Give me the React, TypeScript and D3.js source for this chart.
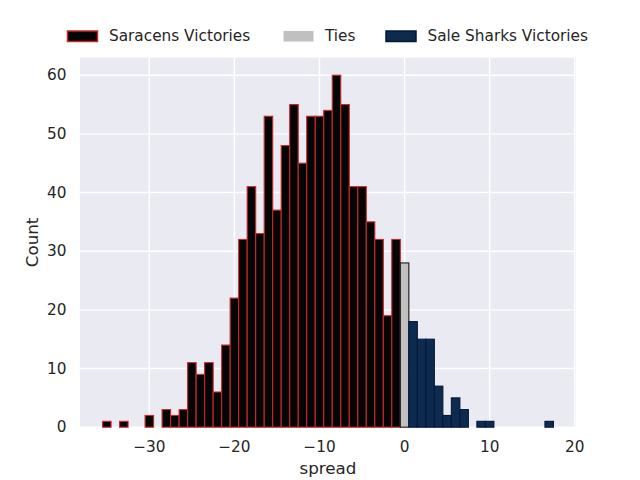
import { useEffect, useRef } from 'react';
import * as d3 from 'd3';

// spread values (integer bins) and their counts
const saracensSpread = [-35, -33, -30, -28, -27, -26, -25, -24, -23, -22, -21, -20, -19, -18, -17, -16, -15, -14, -13, -12, -11, -10, -9, -8, -7, -6, -5, -4, -3, -2, -1];
const saracensCounts = [1, 1, 2, 3, 2, 3, 11, 9, 11, 6, 14, 22, 32, 41, 33, 53, 37, 48, 55, 45, 53, 53, 54, 60, 55, 41, 41, 35, 32, 19, 32];
const tieSpread = [0];
const tieCounts = [28];
const saleSpread = [1, 2, 3, 4, 5, 6, 7, 9, 10, 17];
const saleCounts = [18, 15, 15, 7, 2, 5, 3, 1, 1, 1];

const xTicks = [-30, -20, -10, 0, 10, 20];
const yTicks = [0, 10, 20, 30, 40, 50, 60];

const series = [
  { name: 'Saracens Victories', spread: saracensSpread, counts: saracensCounts, fill: '#050505', stroke: '#c8282a' },
  { name: 'Ties', spread: tieSpread, counts: tieCounts, fill: '#c0c0c0', stroke: '#1a1a1a' },
  { name: 'Sale Sharks Victories', spread: saleSpread, counts: saleCounts, fill: '#0d2b4f', stroke: '#06173a' },
];

export default function App() {
  const svgRef = useRef<SVGSVGElement>(null);

  useEffect(() => {
    document.body.style.margin = '0';
    if (!svgRef.current) return;
    d3.select(svgRef.current).selectAll('*').remove();

    const width = 640;
    const height = 480;
    const left = 80, right = 576, top = 57.6, bottom = 427.2;
    const textColor = '#262626';
    const font = 'DejaVu Sans, sans-serif';

    const svg = d3.select(svgRef.current).attr('width', width).attr('height', height);

    const x = d3.scaleLinear().domain([-38.15, 20.15]).range([left, right]);
    const y = d3.scaleLinear().domain([0, 63]).range([bottom, top]);

    // background
    svg.append('rect')
      .attr('x', left).attr('y', top)
      .attr('width', right - left).attr('height', bottom - top)
      .attr('fill', '#eaeaf2');

    // grid
    svg.append('g').selectAll('line').data(xTicks).join('line')
      .attr('x1', d => x(d)).attr('x2', d => x(d))
      .attr('y1', top).attr('y2', bottom)
      .attr('stroke', 'white').attr('stroke-width', 1.4);
    svg.append('g').selectAll('line').data(yTicks).join('line')
      .attr('x1', left).attr('x2', right)
      .attr('y1', d => y(d)).attr('y2', d => y(d))
      .attr('stroke', 'white').attr('stroke-width', 1.4);

    // bars
    series.forEach(s => {
      svg.append('g').selectAll('rect').data(s.spread.map((v, i) => ({ v, c: s.counts[i] }))).join('rect')
        .attr('x', d => x(d.v - 0.5))
        .attr('width', d => x(d.v + 0.5) - x(d.v - 0.5))
        .attr('y', d => y(d.c))
        .attr('height', d => y(0) - y(d.c))
        .attr('fill', s.fill)
        .attr('stroke', s.stroke)
        .attr('stroke-width', 1.1);
    });

    // x tick labels
    svg.append('g').selectAll('text').data(xTicks).join('text')
      .attr('x', d => x(d)).attr('y', 452)
      .attr('text-anchor', 'middle')
      .attr('font-family', font).attr('font-size', 15.3).attr('fill', textColor)
      .text(d => (d < 0 ? '\u2212' + Math.abs(d) : String(d)));

    // y tick labels
    svg.append('g').selectAll('text').data(yTicks).join('text')
      .attr('x', 66.5).attr('y', d => y(d))
      .attr('text-anchor', 'end').attr('dominant-baseline', 'central')
      .attr('font-family', font).attr('font-size', 15.3).attr('fill', textColor)
      .text(d => String(d));

    // axis labels
    svg.append('text')
      .attr('x', (left + right) / 2).attr('y', 474)
      .attr('text-anchor', 'middle')
      .attr('font-family', font).attr('font-size', 16.7).attr('fill', textColor)
      .text('spread');
    svg.append('text')
      .attr('transform', `translate(38, ${(top + bottom) / 2}) rotate(-90)`)
      .attr('text-anchor', 'middle')
      .attr('font-family', font).attr('font-size', 16.7).attr('fill', textColor)
      .text('Count');

    // legend
    const legendX = [67.5, 283.5, 386];
    series.forEach((s, i) => {
      const g = svg.append('g').attr('transform', `translate(${legendX[i]}, 31)`);
      g.append('rect')
        .attr('x', 0).attr('y', 0).attr('width', 30).attr('height', 10.5)
        .attr('fill', s.fill)
        .attr('stroke', s.name === 'Ties' ? 'none' : s.stroke)
        .attr('stroke-width', 1.5);
      g.append('text')
        .attr('x', 41.5).attr('y', 10)
        .attr('font-family', font).attr('font-size', 15.3).attr('fill', textColor)
        .text(s.name);
    });
  }, []);

  return <svg ref={svgRef}></svg>;
}
